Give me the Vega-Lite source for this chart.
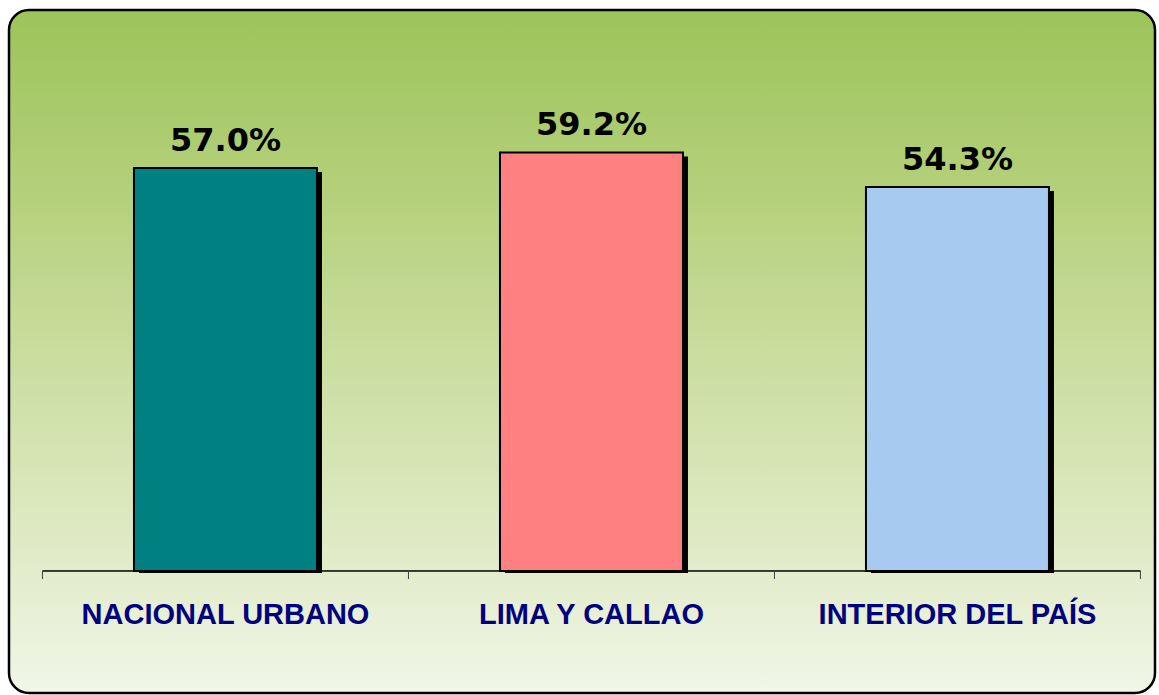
{
  "$schema": "https://vega.github.io/schema/vega-lite/v6.json",
  "width": 1146,
  "height": 683,
  "autosize": {"type": "none"},
  "padding": {"left": 9, "top": 10, "right": 4, "bottom": 2},
  "background": "white",
  "config": {
    "view": {
      "fill": {
        "gradient": "linear",
        "x1": 0, "y1": 0, "x2": 0, "y2": 1,
        "stops": [
          {"offset": 0, "color": "#9CC45A"},
          {"offset": 0.25, "color": "#B3CF78"},
          {"offset": 0.5, "color": "#C9DD9E"},
          {"offset": 0.8, "color": "#E1EBC8"},
          {"offset": 1, "color": "#F1F6E8"}
        ]
      },
      "stroke": "black",
      "strokeWidth": 2.5,
      "cornerRadius": 20
    }
  },
  "data": {
    "values": [
      {"cat": "NACIONAL URBANO", "value": 0.570},
      {"cat": "LIMA Y CALLAO", "value": 0.592},
      {"cat": "INTERIOR DEL PAÍS", "value": 0.543}
    ]
  },
  "encoding": {
    "x": {
      "field": "cat",
      "type": "nominal",
      "sort": null,
      "scale": {"paddingInner": 0.5, "paddingOuter": 0.3156, "align": 0.541, "round": false},
      "axis": null
    }
  },
  "layer": [
    {
      "mark": {"type": "bar", "fill": "transparent", "stroke": "black", "strokeWidth": 1, "width": {"band": 2}},
      "encoding": {
        "y": {"datum": 0, "type": "quantitative", "scale": {"domain": [-0.1726, 0.7935], "nice": false, "zero": false}, "axis": null},
        "y2": {"datum": 0}
      }
    },
    {
      "mark": {"type": "rule", "color": "#404040", "strokeWidth": 1, "y2Offset": 8},
      "encoding": {
        "x": {"field": "cat", "type": "nominal", "sort": null, "bandPosition": -0.5},
        "y": {"datum": 0, "type": "quantitative"},
        "y2": {"datum": 0}
      }
    },
    {
      "transform": [{"filter": "datum.cat === 'INTERIOR DEL PAÍS'"}],
      "mark": {"type": "rule", "color": "#404040", "strokeWidth": 1, "y2Offset": 8},
      "encoding": {
        "x": {"field": "cat", "type": "nominal", "sort": null, "bandPosition": 1.5},
        "y": {"datum": 0, "type": "quantitative"},
        "y2": {"datum": 0}
      }
    },
    {
      "mark": {"type": "bar", "fill": "black", "xOffset": 5, "x2Offset": 5, "yOffset": 4, "y2Offset": 2},
      "encoding": {
        "y": {"field": "value", "type": "quantitative"},
        "y2": {"datum": 0}
      }
    },
    {
      "mark": {"type": "bar", "stroke": "black", "strokeWidth": 2},
      "encoding": {
        "y": {"field": "value", "type": "quantitative"},
        "y2": {"datum": 0},
        "color": {
          "field": "cat",
          "type": "nominal",
          "sort": null,
          "scale": {"domain": ["NACIONAL URBANO", "LIMA Y CALLAO", "INTERIOR DEL PAÍS"], "range": ["#008080", "#FF8080", "#A6CAF0"]},
          "legend": null
        }
      }
    },
    {
      "mark": {"type": "text", "font": "DejaVu Sans", "fontWeight": "bold", "fontSize": 32, "color": "black", "baseline": "alphabetic", "align": "center", "dy": -17},
      "encoding": {
        "y": {"field": "value", "type": "quantitative"},
        "text": {"field": "value", "type": "quantitative", "format": ".1%"}
      }
    },
    {
      "mark": {"type": "text", "font": "Liberation Sans", "fontWeight": "bold", "fontSize": 29, "color": "#000080", "baseline": "alphabetic", "align": "center", "dy": 53},
      "encoding": {
        "y": {"datum": 0, "type": "quantitative"},
        "text": {"field": "cat", "type": "nominal"}
      }
    }
  ]
}
